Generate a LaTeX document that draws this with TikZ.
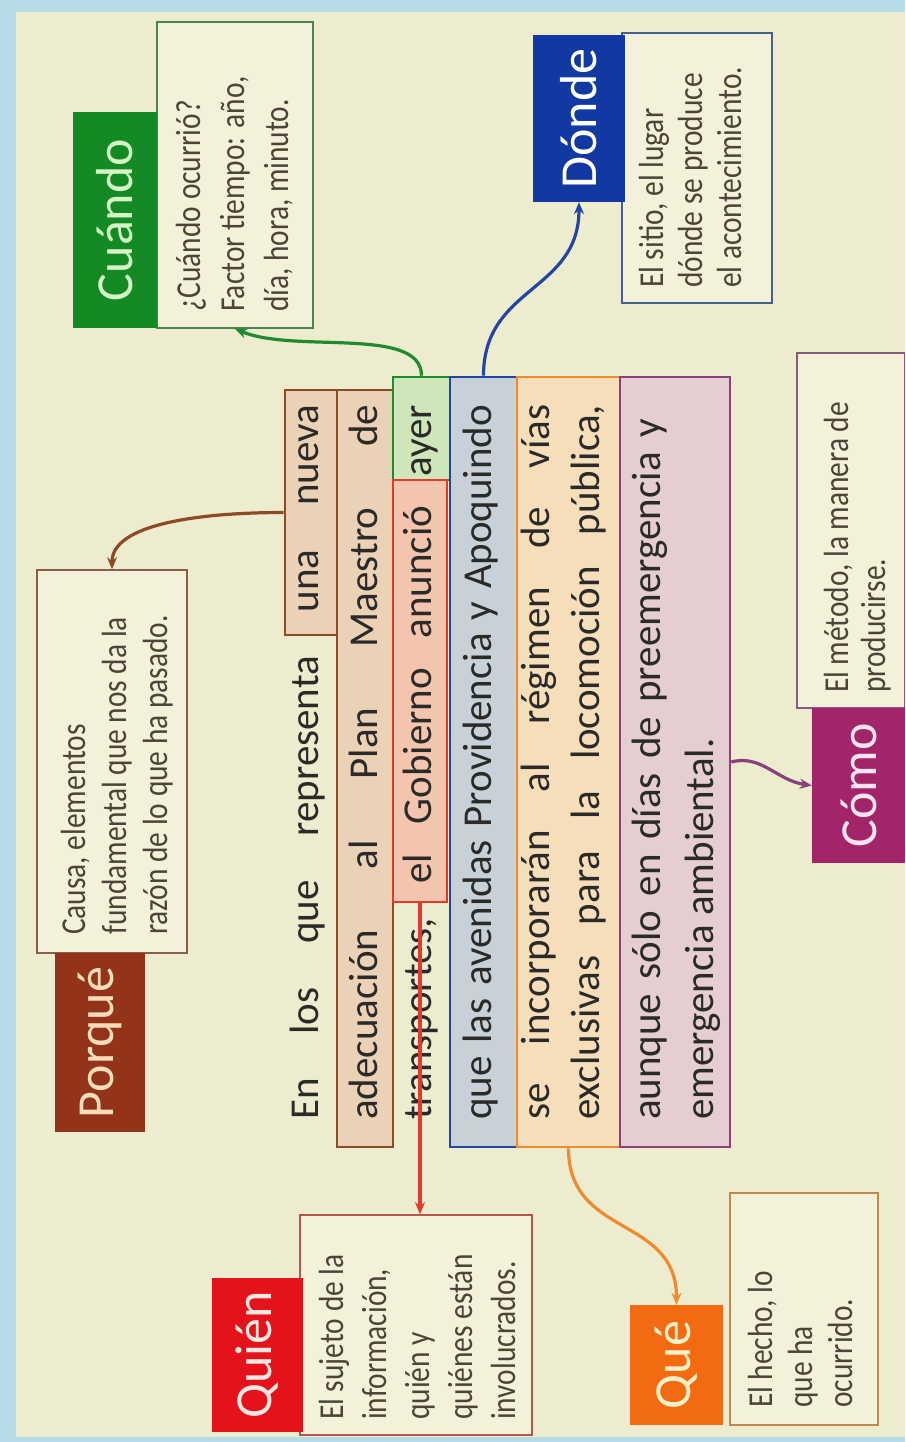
\documentclass[tikz,border=0pt]{standalone}
\usepackage{fontspec}
\usepackage{graphicx}
\setmainfont{Carlito}
\newfontfamily\descfont[FakeStretch=0.84]{Carlito}
\usetikzlibrary{arrows.meta,fit}

\definecolor{marco}{HTML}{B5DCE6}
\definecolor{papel}{HTML}{EDECCE}
\definecolor{papeldesc}{HTML}{F3F1DA}
\definecolor{tinta}{HTML}{2A2A28}
\definecolor{tintadesc}{HTML}{4A4538}

\definecolor{porque}{HTML}{93331A}
\definecolor{porquetxt}{HTML}{F8DDB8}
\definecolor{porqueline}{HTML}{8E4A26}
\definecolor{porquefill}{HTML}{EBD2B6}
\definecolor{cuando}{HTML}{138A23}
\definecolor{cuandotxt}{HTML}{D5F5C5}
\definecolor{cuandoline}{HTML}{1E8C2E}
\definecolor{cuandofill}{HTML}{CFE6BA}
\definecolor{quien}{HTML}{E3121B}
\definecolor{quientxt}{HTML}{FFE6E0}
\definecolor{quienline}{HTML}{E23A2C}
\definecolor{quienfill}{HTML}{F3C4AE}
\definecolor{donde}{HTML}{1238A2}
\definecolor{dondetxt}{HTML}{FFFFFF}
\definecolor{dondeline}{HTML}{2446A3}
\definecolor{dondefill}{HTML}{C9D1D8}
\definecolor{que}{HTML}{F26A12}
\definecolor{quetxt}{HTML}{FFF0C8}
\definecolor{queline}{HTML}{F08A2E}
\definecolor{quefill}{HTML}{F6DEBA}
\definecolor{como}{HTML}{A2256A}
\definecolor{comotxt}{HTML}{FFE4F0}
\definecolor{comoline}{HTML}{8C3F7E}
\definecolor{comofill}{HTML}{E4CED2}

\newcommand\labfnt{\fontsize{52}{60}\selectfont}
\newcommand\bodyfnt{\fontsize{41}{49}\selectfont}
\newcommand\descfnt[1]{\descfont\fontsize{35}{#1}\selectfont}

\tikzset{
  lab/.style={fill=#1, text=#1txt, font=\labfnt, inner sep=0pt},
  desc/.style={draw=#1line!60!gray, fill=papeldesc, line width=1.6pt},
  tbox/.style={draw=#1line, fill=#1fill, line width=2.6pt, inner sep=0pt},
  link/.style={draw=#1line, line width=3.2pt, -{Stealth[length=12pt,width=10pt]}},
  linea/.style={rotate=90, anchor=base west, inner sep=0pt, text=tinta, font=\bodyfnt},
  dtext/.style={rotate=90, anchor=base west, inner sep=0pt, text=tintadesc},
}

\begin{document}
\begin{tikzpicture}[x=1pt,y=-1pt]
    \useasboundingbox (0,0) rectangle (905,1442);
    \clip (0,0) rectangle (905,1442);
    \fill[marco] (0,0) rectangle (905,1442);
    \fill[papel] (16,12) rectangle (905,1437);

    % Recuadros del texto
    \foreach \nm/\col/\xa/\ya/\xb/\yb in {
        unanueva/porque/285/390/337/635,
        plan/porque/337/390/393/1147,
        ayer/cuando/393/377/450/480,
        gobierno/quien/393/480/447/902,
        avenidas/donde/450/377/517/1147,
        incorporan/que/517/377/620/1147,
        aunque/como/620/377/730/1147
        } {
        \node[tbox=\col, fit={(\xa,\ya) (\xb,\yb)}] (\nm) {};
    }

    % Texto de la noticia
    \foreach \i/\x/\txt in {
        1/318/{En los que representa una nueva},
        2/377/{adecuación al Plan Maestro de},
        3/431/{transportes, el Gobierno anunció ayer},
        4/491/{que las avenidas Providencia y Apoquindo},
        5/549/{se incorporarán al régimen de vías},
        6/599/{exclusivas para la locomoción pública,},
        7/660/{aunque sólo en días de preemergencia y}
        } {
        \node[linea] (linea\i) at (\x,1120) {\makebox[715pt][s]{\txt}};
    }
    \node[linea] (linea8) at (713,1120) {emergencia ambiental.};

    % Cuándo
    \node[desc=cuando, minimum width=156pt, minimum height=306pt] (cuandoD) at (235,175) {};
    \node[lab=cuando, minimum width=84pt, minimum height=216pt] (cuando) at (115,220) {\rotatebox{90}{Cuándo}};
    \node[dtext, font=\descfnt{44}] (cuandoT) at (200,312)
        {\begin{tabular}[t]{@{}l@{}}¿Cuándo ocurrió?\\Factor tiempo: año,\\día, hora, minuto.\end{tabular}};

    % Dónde
    \node[desc=donde, minimum width=150pt, minimum height=270pt] (dondeD) at (697,168) {};
    \node[lab=donde, minimum width=92pt, minimum height=167pt] (donde) at (579,118.5) {\rotatebox{90}{Dónde}};
    \node[dtext, font=\descfnt{39}] (dondeT) at (663,288)
        {\begin{tabular}[t]{@{}l@{}}El sitio, el lugar\\dónde se produce\\el acontecimiento.\end{tabular}};

    % Porqué
    \node[desc=porque, minimum width=150pt, minimum height=383pt] (porqueD) at (112,761.5) {};
    \node[lab=porque, minimum width=90pt, minimum height=179pt] (porque) at (100,1042.5) {\rotatebox{90}{Porqué}};
    \node[dtext, font=\descfnt{41}] (porqueT) at (85,935)
        {\begin{tabular}[t]{@{}l@{}}Causa, elementos\\fundamental que nos da la\\razón de lo que ha pasado.\end{tabular}};

    % Quién
    \node[desc=quien, minimum width=232pt, minimum height=220pt] (quienD) at (416,1325) {};
    \node[lab=quien, minimum width=91pt, minimum height=154pt] (quien) at (257.5,1355) {\rotatebox{90}{Quién}};
    \node[dtext, font=\descfnt{43}] (quienT) at (343,1420)
        {\begin{tabular}[t]{@{}l@{}}El sujeto de la\\información,\\quién y\\quiénes están\\involucrados.\end{tabular}};

    % Qué
    \node[desc=que, minimum width=148pt, minimum height=232pt] (queD) at (804,1309) {};
    \node[lab=que, minimum width=93pt, minimum height=120pt] (que) at (676.5,1365) {\rotatebox{90}{Qué}};
    \node[dtext, font=\descfnt{40}] (queT) at (772,1408)
        {\begin{tabular}[t]{@{}l@{}}El hecho, lo\\que ha\\ocurrido.\end{tabular}};

    % Cómo
    \node[desc=como, minimum width=108pt, minimum height=355pt] (comoD) at (851,530.5) {};
    \node[lab=como, minimum width=93pt, minimum height=155pt] (como) at (858.5,785.5) {\rotatebox{90}{Cómo}};
    \node[dtext, font=\descfnt{37}] (comoT) at (848,693)
        {\begin{tabular}[t]{@{}l@{}}El método, la manera de\\producirse.\end{tabular}};

    % Flechas
    \draw[link=porque] (unanueva.west) .. controls +(-85,0) and +(0,-45) .. (porqueD.north);
    \draw[link=cuando] (ayer.north) .. controls +(0,-50) and +(60,25) .. (cuandoD.south);
    \draw[link=donde] (avenidas.north) .. controls +(0,-90) and +(0,90) .. (donde.south);
    \draw[link=quien] (gobierno.south) -- (gobierno.south |- quienD.north);
    \draw[link=que] (incorporan.south) .. controls +(0,90) and +(0,-90) .. (que.north);
    \draw[link=como] (aunque.east) .. controls +(30,-8) and +(-35,-5) .. (como.west);
\end{tikzpicture}
\end{document}
